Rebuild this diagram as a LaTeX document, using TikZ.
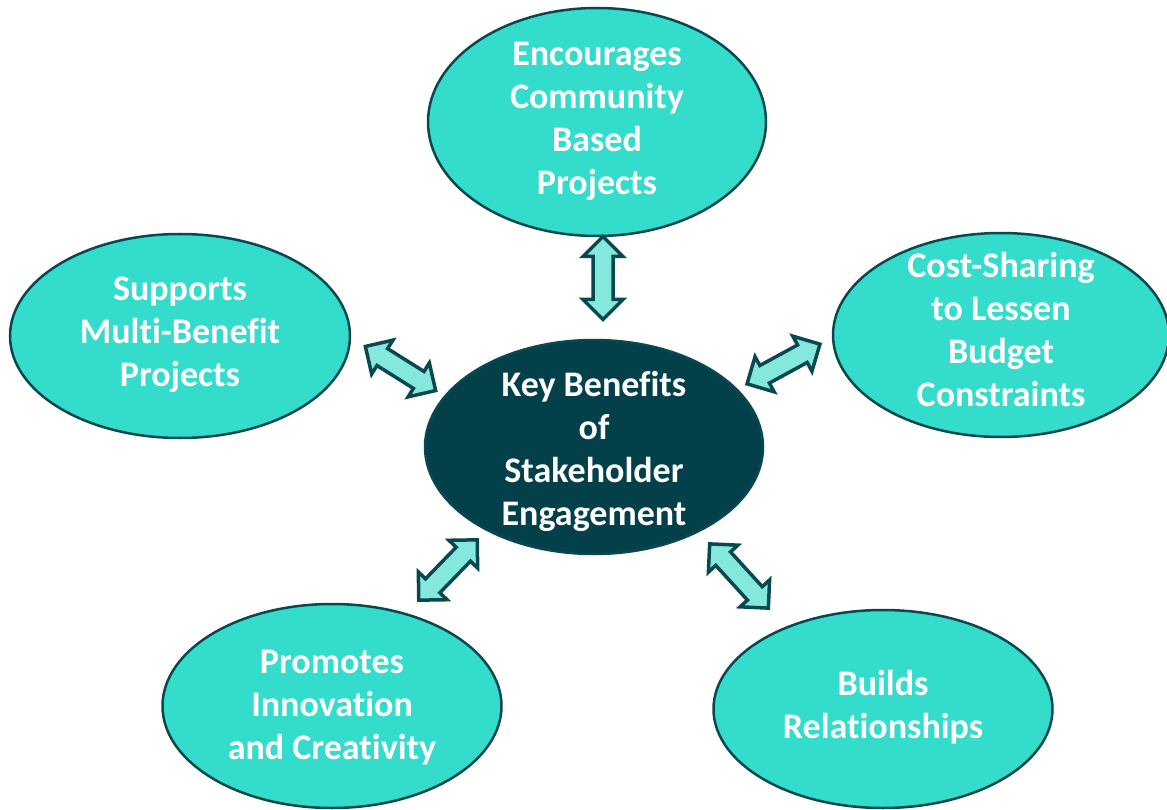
\documentclass[tikz,border=0pt]{standalone}
\usepackage{fontspec}
\setmainfont{Carlito}[Ligatures=NoCommon]
\usetikzlibrary{shapes.geometric}
\definecolor{tq}{HTML}{34DCCB}
\definecolor{dk}{HTML}{03404A}
\definecolor{bd}{HTML}{0A4850}
\definecolor{af}{HTML}{84E8DD}
\newcommand\twoway[5]{%
  \begin{scope}[shift={(#2,#3)},rotate=#4]
    \pgfmathsetmacro\hl{#5/2}
    \pgfmathsetmacro\hb{#5/2-20}
    \draw[twowaysty] (-\hl,0) -- (-\hb,20) -- (-\hb,10) -- (\hb,10) -- (\hb,20) -- (\hl,0)
      -- (\hb,-20) -- (\hb,-10) -- (-\hb,-10) -- (-\hb,-20) -- cycle;
    \coordinate (#1) at (0,0);
  \end{scope}}
\begin{document}
\begin{tikzpicture}[x=1pt,y=-1pt,
  bubble/.style={ellipse, draw=bd, line width=2.5pt, fill=tq, inner sep=0pt},
  hub/.style={bubble, fill=dk},
  txt/.style={text=white, inner sep=0pt, align=center, font=\fontsize{36}{43}\selectfont\bfseries},
  twowaysty/.style={draw=bd, fill=af, line width=3.5pt, line join=miter}]
\useasboundingbox (0,0) rectangle (1167,810);
\node[hub, minimum width=338pt, minimum height=214pt] (c) at (594,447) {};
\node[txt, yshift=-4pt] (ct) at (c) {Key Benefits\\of\\Stakeholder\\Engagement};
\node[bubble, minimum width=338pt, minimum height=228pt] (t) at (597,122) {};
\node[txt, yshift=1pt] (tt) at (t) {Encourages\\Community\\Based\\Projects};
\node[bubble, minimum width=340pt, minimum height=204pt] (l) at (180,336) {};
\node[txt, yshift=1pt] (lt) at (l) {Supports\\Multi-Benefit\\Projects};
\node[bubble, minimum width=336pt, minimum height=204pt] (r) at (1001,335) {};
\node[txt, yshift=5pt] (rt) at (r) {Cost-Sharing\\to Lessen\\Budget\\Constraints};
\node[bubble, minimum width=339pt, minimum height=204pt] (bl) at (332,706) {};
\node[txt, yshift=-2pt] (blt) at (bl) {Promotes\\Innovation\\and Creativity};
\node[bubble, minimum width=339pt, minimum height=198pt] (br) at (883,709) {};
\node[txt, yshift=2pt] (brt) at (br) {Builds\\Relationships};
\twoway{a1}{603}{278}{90}{83}
\twoway{a2}{400.5}{368.5}{-32.1}{83}
\twoway{a3}{783.5}{364}{28.6}{83}
\twoway{a4}{448}{570}{45.9}{84}
\twoway{a5}{739}{576}{-47.6}{87}
\end{tikzpicture}
\end{document}
